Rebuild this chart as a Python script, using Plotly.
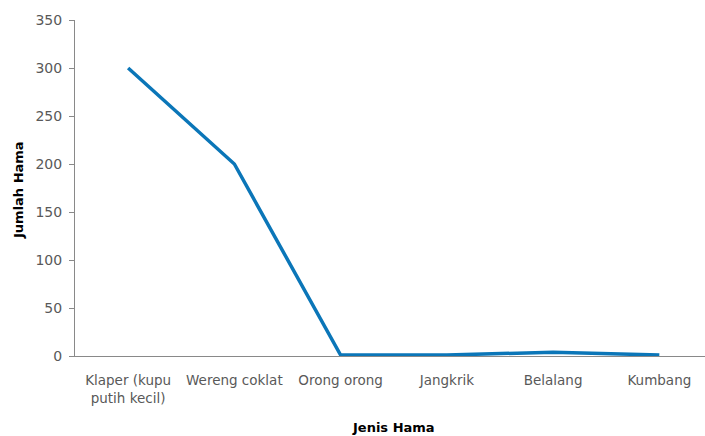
import plotly.graph_objects as go

categories = ["Klaper (kupu<br>putih kecil)", "Wereng coklat", "Orong orong", "Jangkrik", "Belalang", "Kumbang"]
values = [300, 200, 1, 1, 4, 1]
y_ticks = [0, 50, 100, 150, 200, 250, 300, 350]

FONT = "DejaVu Sans"

fig = go.Figure()
fig.add_trace(go.Scatter(
    x=categories, y=values, mode="lines",
    line=dict(color="#0B76B8", width=3.5),
    showlegend=False, hoverinfo="skip", cliponaxis=False,
))

fig.update_layout(
    width=705, height=436,
    margin=dict(l=75, r=0, t=20, b=80),
    paper_bgcolor="white", plot_bgcolor="white",
    font=dict(family=FONT, size=13, color="#595959"),
    xaxis=dict(
        type="category", range=[-0.5, 5.43],
        showline=True, linecolor="#898989", linewidth=1,
        ticks="", showgrid=False, zeroline=False,
        tickfont=dict(family=FONT, size=13.5, color="#595959"),
        ticklabelstandoff=12,
    ),
    yaxis=dict(
        range=[0, 350], tickvals=y_ticks,
        showline=True, linecolor="#898989", linewidth=1,
        ticks="outside", ticklen=5, tickcolor="#898989",
        showgrid=False, zeroline=False,
        tickfont=dict(family=FONT, size=14, color="#595959"),
        ticklabelstandoff=4,
    ),
    annotations=[
        dict(text="<b>Jenis Hama</b>", x=393, y=428,
             showarrow=False, xanchor="center", yanchor="middle",
             font=dict(family=FONT, size=13, color="black")),
        dict(text="<b>Jumlah Hama</b>", x=18, y=190, textangle=-90,
             showarrow=False, xanchor="center", yanchor="middle",
             font=dict(family=FONT, size=13, color="black")),
    ],
)

# convert pixel positions of annotations to paper coords
pw, ph = 705 - 75 - 0, 436 - 20 - 80
for a in fig.layout.annotations:
    px, py = a.x, a.y
    a.x = (px - 75) / pw
    a.y = (436 - 80 - py) / ph
    a.xref = "paper"
    a.yref = "paper"

fig.write_html("out.html")
